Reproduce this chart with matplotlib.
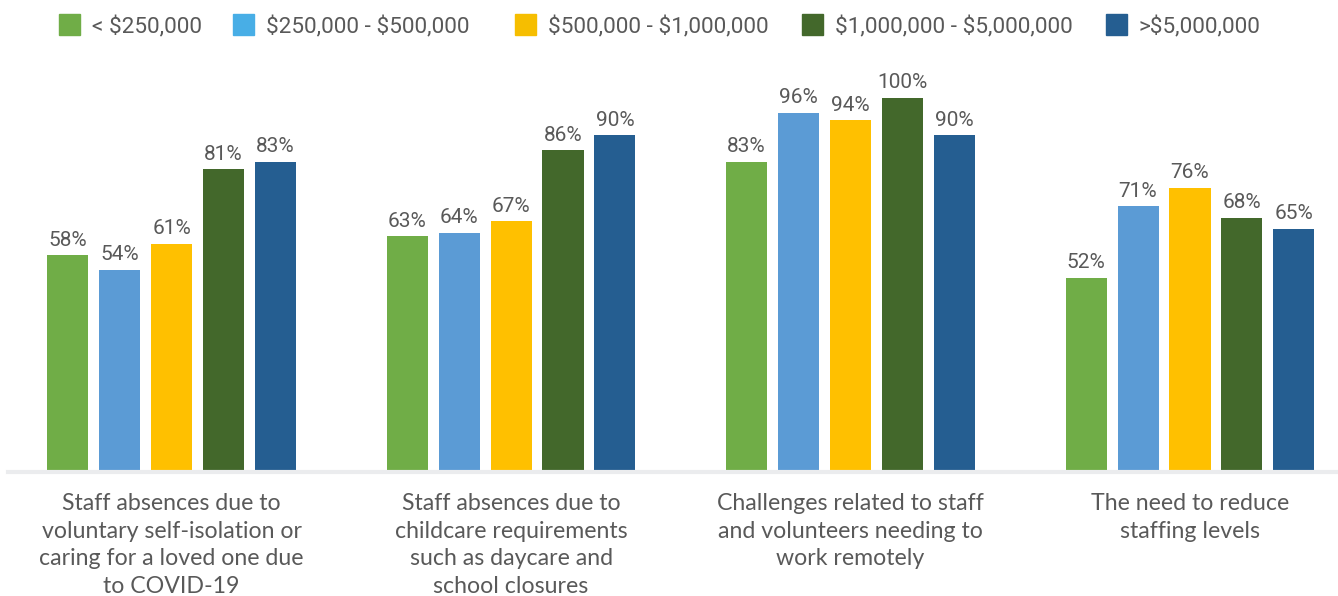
import numpy as np
import matplotlib.pyplot as plt
from matplotlib.patches import Rectangle

categories = [
    "Staff absences due to\nvoluntary self-isolation or\ncaring for a loved one due\nto COVID-19",
    "Staff absences due to\nchildcare requirements\nsuch as daycare and\nschool closures",
    "Challenges related to staff\nand volunteers needing to\nwork remotely",
    "The need to reduce\nstaffing levels",
]
series_names = [r"< \$250,000", r"\$250,000 - \$500,000", r"\$500,000 - \$1,000,000",
                r"\$1,000,000 - \$5,000,000", r">\$5,000,000"]
under_250k = [58, 63, 83, 52]
k250_500 = [54, 64, 96, 71]
k500_1m = [61, 67, 94, 76]
m1_5 = [81, 86, 100, 68]
over_5m = [83, 90, 90, 65]
series = [under_250k, k250_500, k500_1m, m1_5, over_5m]

bar_colors = ["#70AD47", "#5B9BD5", "#FFC000", "#43682B", "#255E91"]
legend_colors = ["#70AD47", "#48AEE6", "#F6BE00", "#43682B", "#255E91"]
text_color = "#595959"

W, H = 1338, 596
fig = plt.figure(figsize=(W / 100, H / 100), dpi=100)
ax = fig.add_axes([8 / W, 124 / H, 1 - 8 / W, 374 / H])

x = np.arange(len(categories))
step = 0.153
width = 0.121
for i, (vals, col) in enumerate(zip(series, bar_colors)):
    bars = ax.bar(x + (i - 2) * step, vals, width, color=col, zorder=2)
    ax.bar_label(bars, labels=[f"{v}%" for v in vals], padding=4,
                 fontsize=15, color=text_color, family="Roboto")

ax.set_ylim(0, 100)
ax.set_xlim(-0.482, 3.436)
ax.set_yticks([])
ax.set_xticks(x)
ax.set_xticklabels(categories, fontsize=16.7, color=text_color, family="Lato",
                   linespacing=1.4)
ax.tick_params(axis="x", length=0, pad=15)
for s in ["top", "right", "left"]:
    ax.spines[s].set_visible(False)
ax.spines["bottom"].set_color("#EBECEE")
ax.spines["bottom"].set_linewidth(3)

# legend laid out by hand along the top
legend_x = [59, 233, 515, 802, 1106]
box = 21
yc = 1 - 24.5 / H
baseline = 1 - 33 / H
for px, name, col in zip(legend_x, series_names, legend_colors):
    fig.add_artist(Rectangle((px / W, yc - box / 2 / H), box / W, box / H,
                             color=col, transform=fig.transFigure))
    fig.text((px + box + 12) / W, baseline, name, va="baseline", ha="left",
             fontsize=16.2, color=text_color, family="Roboto")

fig.savefig("out.png", dpi=100)
